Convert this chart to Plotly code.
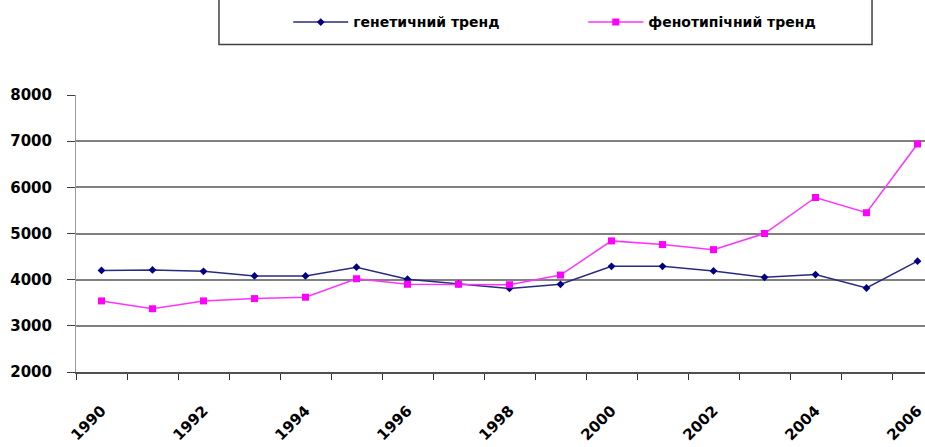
import plotly.graph_objects as go

# Breeding-value trends by year
years = list(range(1990, 2007))
genetic = [4200, 4210, 4180, 4080, 4080, 4270, 4010, 3910, 3810, 3900,
           4290, 4290, 4190, 4050, 4110, 3820, 4400]
phenotypic = [3540, 3370, 3540, 3590, 3620, 4020, 3900, 3900, 3890, 4100,
              4840, 4760, 4650, 5000, 5780, 5450, 6940]
label_years = years[::2]
y_ticks = [2000, 3000, 4000, 5000, 6000, 7000, 8000]

bold = dict(family="DejaVu Sans", weight="bold", color="#000000")

fig = go.Figure()
fig.add_trace(go.Scatter(
    x=years, y=genetic, name="генетичний тренд", mode="lines+markers",
    line=dict(color="#2a2a80", width=1.5),
    marker=dict(symbol="diamond", size=6, color="#000080"),
    cliponaxis=False,
))
fig.add_trace(go.Scatter(
    x=years, y=phenotypic, name="фенотипічний тренд", mode="lines+markers",
    line=dict(color="#ff33ff", width=1.5),
    marker=dict(symbol="square", size=7, color="#ff00ff"),
    cliponaxis=False,
))

# legend frame (its top edge runs off the page)
fig.add_shape(type="rect", xref="paper", yref="paper",
              x0=0.1684, x1=0.9376, y0=1.182, y1=1.45,
              line=dict(color="#404040", width=1.5), fillcolor="rgba(0,0,0,0)")

fig.update_layout(
    width=925, height=447,
    margin=dict(l=76, r=0, t=95, b=75),
    paper_bgcolor="white", plot_bgcolor="white",
    showlegend=True,
    legend=dict(orientation="h", x=0.25, xanchor="left", y=1.262, yanchor="middle",
                font=dict(size=14, **bold), itemwidth=55, bgcolor="rgba(0,0,0,0)",
                entrywidth=225),
    xaxis=dict(
        range=[1989.5, 2006.147], tickvals=label_years,
        ticktext=[str(y) for y in label_years], tickangle=-45, ticks="",
        showgrid=False, zeroline=False,
        showline=True, linecolor="#505050", linewidth=2,
        tickfont=dict(size=15, **bold), ticklabelstandoff=22,
        ticklabeloverflow="allow",
        minor=dict(tickvals=[y - 0.5 for y in years] + [2006.5], ticks="outside",
                   ticklen=6, tickcolor="#303030", tickwidth=1, showgrid=False),
    ),
    yaxis=dict(
        range=[2000, 8000], tickvals=y_ticks,
        showgrid=True, gridcolor="#808080", gridwidth=2, zeroline=False,
        ticks="outside", ticklen=8, tickcolor="#404040",
        showline=True, linecolor="#9a9a9a", linewidth=1,
        tickfont=dict(size=15, **bold), ticklabelstandoff=12,
    ),
)

fig.write_html("out.html")
